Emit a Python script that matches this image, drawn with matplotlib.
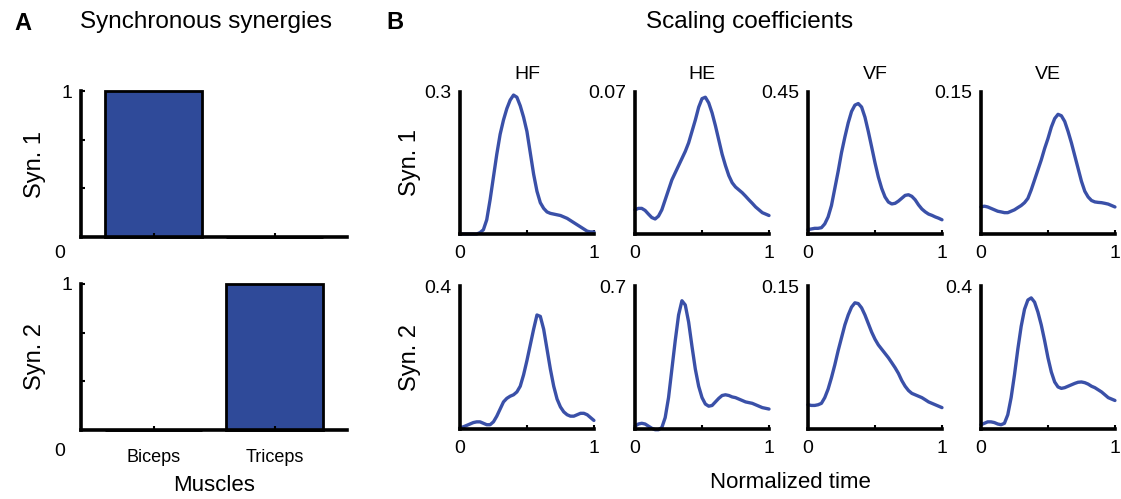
import numpy as np
import matplotlib
matplotlib.use("Agg")
import matplotlib.pyplot as plt

plt.rcParams["font.family"] = ["Liberation Sans", "DejaVu Sans"]

# Panel A: synchronous synergies (muscle weights)
muscles = ["Biceps", "Triceps"]
syn1_weights = [1.0, 0.0]
syn2_weights = [0.0, 1.0]

# Panel B: scaling coefficients over normalized time
directions = ["HF", "HE", "VF", "VE"]
t = np.linspace(0, 1, 41)
syn1_ymax = [0.3, 0.07, 0.45, 0.15]
syn2_ymax = [0.4, 0.7, 0.15, 0.4]

syn1_hf = [0, 0, 0, 0, 0, 0, 0.003, 0.009, 0.03, 0.072, 0.12, 0.168, 0.21,
           0.24, 0.264, 0.282, 0.2925, 0.288, 0.27, 0.246, 0.216, 0.171, 0.126,
           0.09, 0.066, 0.054, 0.0465, 0.0435, 0.042, 0.0405, 0.039, 0.036,
           0.033, 0.0285, 0.024, 0.0195, 0.015, 0.0105, 0.006, 0.0045, 0.0045]
syn1_he = [0.0119, 0.0126, 0.0126, 0.0116, 0.0098, 0.0081, 0.0074, 0.0088,
           0.0119, 0.0168, 0.0217, 0.0266, 0.0301, 0.0336, 0.0371, 0.0406,
           0.0448, 0.0504, 0.056, 0.0623, 0.0665, 0.0672, 0.0644, 0.0595,
           0.0532, 0.0462, 0.0392, 0.0336, 0.0287, 0.0252, 0.0231, 0.0217,
           0.0203, 0.0186, 0.0168, 0.0151, 0.0133, 0.0119, 0.0105, 0.0098,
           0.0091]
syn1_vf = [0.014, 0.016, 0.018, 0.018, 0.020, 0.032, 0.054, 0.090, 0.144,
           0.198, 0.257, 0.306, 0.351, 0.387, 0.407, 0.412, 0.401, 0.369,
           0.324, 0.275, 0.225, 0.180, 0.144, 0.117, 0.101, 0.095, 0.097,
           0.104, 0.113, 0.122, 0.124, 0.119, 0.108, 0.092, 0.079, 0.070,
           0.063, 0.059, 0.054, 0.050, 0.045]
syn1_ve = [0.0285, 0.0293, 0.0285, 0.027, 0.0255, 0.024, 0.0233, 0.0225,
           0.0225, 0.024, 0.0255, 0.0278, 0.03, 0.033, 0.0375, 0.0465, 0.057,
           0.0675, 0.078, 0.09, 0.1005, 0.1125, 0.1215, 0.126, 0.1245, 0.1185,
           0.108, 0.096, 0.0825, 0.069, 0.0555, 0.045, 0.039, 0.0353, 0.0338,
           0.0333, 0.033, 0.0323, 0.0315, 0.03, 0.0285]

syn2_hf = [0.004, 0.006, 0.01, 0.014, 0.018, 0.02, 0.02, 0.016, 0.012, 0.012,
           0.02, 0.036, 0.056, 0.076, 0.086, 0.092, 0.096, 0.104, 0.12, 0.152,
           0.192, 0.236, 0.28, 0.32, 0.316, 0.28, 0.224, 0.168, 0.12, 0.084,
           0.062, 0.048, 0.04, 0.036, 0.036, 0.04, 0.044, 0.044, 0.04, 0.032,
           0.024]
syn2_he = [0.014, 0.0245, 0.028, 0.0245, 0.014, 0.0035, -0.0035, -0.0035,
           0.007, 0.056, 0.154, 0.294, 0.434, 0.56, 0.63, 0.609, 0.525, 0.406,
           0.294, 0.21, 0.154, 0.1225, 0.112, 0.1155, 0.133, 0.1505, 0.1645,
           0.168, 0.1645, 0.1575, 0.154, 0.147, 0.14, 0.133, 0.1295, 0.126,
           0.119, 0.112, 0.105, 0.1015, 0.098]
syn2_vf = [0.0255, 0.0248, 0.0248, 0.0255, 0.027, 0.033, 0.042, 0.054, 0.0675,
           0.0825, 0.096, 0.1095, 0.12, 0.1283, 0.1328, 0.132, 0.1275, 0.12,
           0.111, 0.102, 0.0945, 0.0885, 0.084, 0.0795, 0.075, 0.0698, 0.0645,
           0.0585, 0.051, 0.045, 0.0405, 0.0375, 0.036, 0.0345, 0.033, 0.0308,
           0.0285, 0.027, 0.0255, 0.024, 0.0225]
syn2_ve = [0.012, 0.016, 0.02, 0.02, 0.018, 0.014, 0.012, 0.016, 0.04, 0.088,
           0.152, 0.224, 0.288, 0.336, 0.362, 0.368, 0.356, 0.328, 0.292, 0.248,
           0.2, 0.16, 0.132, 0.118, 0.114, 0.116, 0.12, 0.124, 0.128, 0.1312,
           0.132, 0.13, 0.126, 0.12, 0.116, 0.11, 0.104, 0.096, 0.088, 0.084,
           0.08]

BAR_COLOR = "#2f4a99"
LINE_COLOR = "#3a50a8"
SPINE_W = 2.6

fig = plt.figure(figsize=(11.21, 4.99), dpi=100)


def style_axes(ax):
    for side in ["top", "right"]:
        ax.spines[side].set_visible(False)
    for side in ["left", "bottom"]:
        ax.spines[side].set_linewidth(SPINE_W)
        ax.spines[side].set_color("black")
    ax.tick_params(direction="in", length=3, width=1.5, colors="black")


# ---- Panel A ----
for i, (bottom, weights, lab) in enumerate([(0.525, syn1_weights, "Syn. 1"),
                                             (0.1383, syn2_weights, "Syn. 2")]):
    ax = fig.add_axes([0.0723, bottom, 0.2373, 0.2926])
    style_axes(ax)
    ax.bar([1, 2], weights, width=0.8, color=BAR_COLOR, edgecolor="black",
           linewidth=2, clip_on=False)
    ax.set_xlim(0.4, 2.6)
    ax.set_ylim(0, 1)
    ax.set_yticks([0, 1 / 3, 2 / 3, 1])
    ax.set_yticklabels(["", "", "", "1"], fontsize=14)
    ax.tick_params(axis="y", pad=6)
    ax.set_xticks([1, 2])
    if i == 1:
        ax.set_xticklabels(muscles, fontsize=13,
                           family=["Liberation Sans Narrow", "Liberation Sans"])
        ax.tick_params(axis="x", pad=14)
        ax.set_xlabel("Muscles", fontsize=16, labelpad=6,
                      family=["Liberation Sans Narrow", "Liberation Sans"])
    else:
        ax.set_xticklabels(["", ""])
    ax.text(-0.06, -0.11 if i == 0 else -0.15, "0", transform=ax.transAxes,
            fontsize=14, ha="right", va="center")
    ax.set_ylabel(lab, fontsize=17)
    ax.yaxis.set_label_coords(-0.13, 0.5)

# ---- Panel B ----
rows = [(0.531, syn1_ymax, [syn1_hf, syn1_he, syn1_vf, syn1_ve], "Syn. 1"),
        (0.1403, syn2_ymax, [syn2_hf, syn2_he, syn2_vf, syn2_ve], "Syn. 2")]
lefts = [0.4103, 0.5665, 0.7208, 0.8751]
for r, (bottom, ymaxes, series, lab) in enumerate(rows):
    for c in range(4):
        ax = fig.add_axes([lefts[c], bottom, 0.1195, 0.2856])
        style_axes(ax)
        ax.plot(t, series[c], color=LINE_COLOR, linewidth=2.4,
                solid_joinstyle="round", solid_capstyle="round", clip_on=False)
        ax.set_xlim(0, 1)
        ax.set_ylim(0, ymaxes[c])
        ax.set_xticks([0, 0.5, 1])
        ax.set_xticklabels(["0", "", "1"], fontsize=14)
        ax.tick_params(axis="x", pad=8)
        ax.set_yticks([ymaxes[c]])
        ax.set_yticklabels([f"{ymaxes[c]:g}"], fontsize=14)
        ax.tick_params(axis="y", length=0, pad=6)
        if r == 0:
            ax.set_title(directions[c], fontsize=14, pad=9)
        if c == 0:
            ax.set_ylabel(lab, fontsize=17)
            ax.yaxis.set_label_coords(-0.29, 0.5)

fig.text(0.7047, 0.034, "Normalized time", fontsize=16, ha="center", va="center")

# panel letters and headings
fig.text(0.020, 0.952, "A", fontsize=17, fontweight="bold", ha="center", va="center")
fig.text(0.184, 0.955, "Synchronous synergies", fontsize=17.5, ha="center", va="center")
fig.text(0.352, 0.955, "B", fontsize=17, fontweight="bold", ha="center", va="center")
fig.text(0.669, 0.955, "Scaling coefficients", fontsize=17.5, ha="center", va="center")

fig.savefig("out.png", dpi=100)
